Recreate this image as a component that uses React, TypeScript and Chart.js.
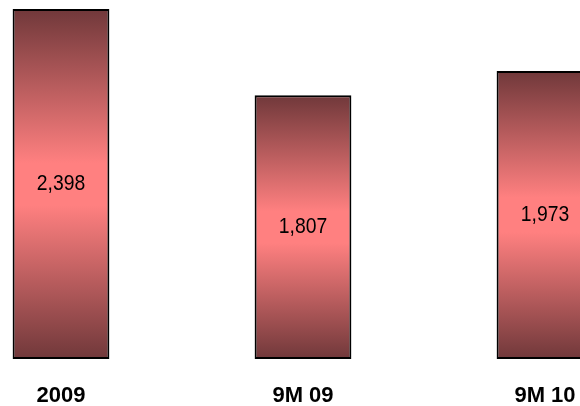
import React, { useEffect, useRef } from "react";
import { Chart, registerables } from "chart.js";

Chart.register(...registerables);

const categories = ["2009", "9M 09", "9M 10"];
const values = [2398, 1807, 1973];
const valueLabels = ["2,398", "1,807", "1,973"];

const FONT = "'Liberation Sans', Arial, sans-serif";

const valueLabelPlugin = {
  id: "valueLabels",
  afterDatasetsDraw(chart: any) {
    const ctx = chart.ctx;
    const meta = chart.getDatasetMeta(0);
    ctx.save();
    ctx.font = `normal 22px ${FONT}`;
    ctx.fillStyle = "#000";
    ctx.textAlign = "center";
    ctx.textBaseline = "middle";
    meta.data.forEach((bar: any, i: number) => {
      const y = (bar.y + bar.base) / 2;
      ctx.save();
      ctx.translate(bar.x, y);
      ctx.scale(0.88, 1);
      ctx.fillText(valueLabels[i], 0, 0);
      ctx.restore();
    });
    ctx.restore();
  },
};

export default function App() {
  const ref = useRef<HTMLCanvasElement | null>(null);
  useEffect(() => {
    const canvas = ref.current!;
    const chart = new Chart(canvas, {
      type: "bar",
      data: {
        labels: categories,
        datasets: [
          {
            data: values,
            backgroundColor: (c: any) => {
              const ch = c.chart;
              if (!ch.chartArea || c.type !== "data") return "rgb(200,100,100)";
              const ys = ch.scales.y;
              const top = ys.getPixelForValue(c.raw);
              const bottom = ys.getPixelForValue(0);
              const g = ch.ctx.createLinearGradient(0, top, 0, bottom);
              g.addColorStop(0, "rgb(112,56,58)");
              g.addColorStop(0.44, "rgb(255,128,128)");
              g.addColorStop(0.56, "rgb(255,128,128)");
              g.addColorStop(1, "rgb(112,56,58)");
              return g;
            },
            borderColor: "#000",
            borderWidth: 2,
            borderSkipped: false,
            categoryPercentage: 1,
            barPercentage: 0.4,
          },
        ],
      },
      options: {
        responsive: false,
        animation: false,
        layout: { padding: { top: 9, left: 0, right: 0, bottom: 0 } },
        plugins: { legend: { display: false }, tooltip: { enabled: false } },
        scales: {
          y: { display: false, min: 0, max: 2398 },
          x: {
            grid: { display: false, drawTicks: false },
            border: { display: false },
            ticks: {
              color: "#000",
              padding: 26,
              font: { family: FONT, size: 22, weight: "bold", lineHeight: 1 },
            },
          },
        },
      },
      plugins: [valueLabelPlugin],
    });
    return () => chart.destroy();
  }, []);
  return (
    <div
      style={{
        position: "fixed",
        left: 0,
        top: 0,
        width: 580,
        height: 406,
        overflow: "hidden",
        background: "#fff",
      }}
    >
      <canvas
        ref={ref}
        width={726}
        height={433}
        style={{ position: "absolute", left: -60, top: 0, width: 726, height: 433 }}
      />
    </div>
  );
}
